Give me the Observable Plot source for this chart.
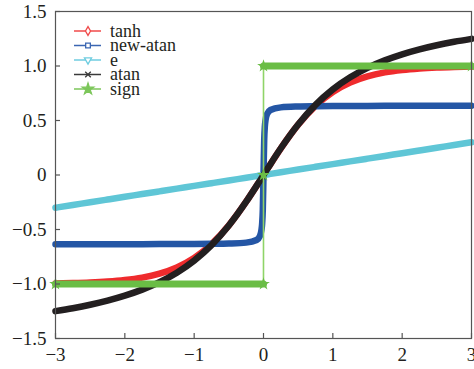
<!DOCTYPE html>
<html>
<head>
<meta charset="utf-8">
<script src="https://cdn.jsdelivr.net/npm/d3@7"></script>
<script src="https://cdn.jsdelivr.net/npm/@observablehq/plot@0.6"></script>
<style>
  body { margin: 0; background: #fff; }
  svg { display: block; }
</style>
</head>
<body>
<div id="chart"></div>
<script>
// Sample positions along x (denser around the origin where new-atan is steep)
const xs = [-3, -2.75, -2.5, -2.25, -2, -1.75, -1.5, -1.25, -1, -0.75, -0.5, -0.25,
  -0.1, -0.05, -0.03, -0.02, -0.01, 0, 0.01, 0.02, 0.03, 0.05, 0.1,
  0.25, 0.5, 0.75, 1, 1.25, 1.5, 1.75, 2, 2.25, 2.5, 2.75, 3];

const tanhY = [-0.9951, -0.9918, -0.9866, -0.9780, -0.9640, -0.9414, -0.9051, -0.8483, -0.7616, -0.6351, -0.4621, -0.2449,
  -0.0997, -0.0500, -0.0300, -0.0200, -0.0100, 0, 0.0100, 0.0200, 0.0300, 0.0500, 0.0997,
  0.2449, 0.4621, 0.6351, 0.7616, 0.8483, 0.9051, 0.9414, 0.9640, 0.9780, 0.9866, 0.9918, 0.9951];

const newAtanY = [-0.6353, -0.6352, -0.6350, -0.6348, -0.6346, -0.6343, -0.6339, -0.6334, -0.6326, -0.6312, -0.6285, -0.6204,
  -0.5962, -0.5566, -0.5062, -0.4487, -0.3183, 0, 0.3183, 0.4487, 0.5062, 0.5566, 0.5962,
  0.6204, 0.6285, 0.6312, 0.6326, 0.6334, 0.6339, 0.6343, 0.6346, 0.6348, 0.6350, 0.6352, 0.6353];

const eY = [-0.3, -0.275, -0.25, -0.225, -0.2, -0.175, -0.15, -0.125, -0.1, -0.075, -0.05, -0.025,
  -0.01, -0.005, -0.003, -0.002, -0.001, 0, 0.001, 0.002, 0.003, 0.005, 0.01,
  0.025, 0.05, 0.075, 0.1, 0.125, 0.15, 0.175, 0.2, 0.225, 0.25, 0.275, 0.3];

const atanY = [-1.2490, -1.2220, -1.1903, -1.1526, -1.1071, -1.0517, -0.9828, -0.8961, -0.7854, -0.6435, -0.4636, -0.2450,
  -0.0997, -0.0500, -0.0300, -0.0200, -0.0100, 0, 0.0100, 0.0200, 0.0300, 0.0500, 0.0997,
  0.2450, 0.4636, 0.6435, 0.7854, 0.8961, 0.9828, 1.0517, 1.1071, 1.1526, 1.1903, 1.2220, 1.2490];

// sign: a step through the origin
const signX = [-3, -0.0001, 0, 0.0001, 3];
const signY = [-1, -1, 0, 1, 1];

const names = ["tanh", "new-atan", "e", "atan", "sign"];
const colors = ["#ef2b2d", "#2456a5", "#5fc6d6", "#231f20", "#6abd45"];
const legendColors = ["#f04a4a", "#3b66b2", "#6fcde0", "#3a3a3a", "#7cc65a"];
const symbols = [d3.symbolDiamond, d3.symbolSquare, d3.symbolTriangle, d3.symbolX, d3.symbolStar];

const xTicks = [-3, -2, -1, 0, 1, 2, 3];
const yTicks = [-1.5, -1, -0.5, 0, 0.5, 1, 1.5];

const curveRows = (ys) => xs.map((x, i) => ({x, y: ys[i]}));
const signRows = signX.map((x, i) => ({x, y: signY[i]}));

const W = 474, H = 369;
const mL = 55, mR = 3, mT = 11, mB = 31;
const fw = W - mL - mR, fh = H - mT - mB;
const serif = "'Liberation Serif', 'Times New Roman', serif";
const yFmt = d => d === 0 ? "0" : d3.format(".1f")(d);

const curveMark = (ys, k) => Plot.line(curveRows(ys), {
  x: "x", y: "y", stroke: colors[k], strokeWidth: 6.5,
  curve: "monotone-x", strokeLinejoin: "round"
});

const chart = Plot.plot({
  width: W, height: H,
  marginLeft: mL, marginRight: mR, marginTop: mT, marginBottom: mB,
  style: {fontFamily: serif, fontSize: "19px", color: "#231f20", background: "#fff"},
  x: {domain: [-3, 3], label: null},
  y: {domain: [-1.5, 1.5], label: null},
  marks: [
    curveMark(tanhY, 0),
    curveMark(newAtanY, 1),
    curveMark(eY, 2),
    curveMark(atanY, 3),
    // thin connecting line of the step, then the thick plateaus
    Plot.line(signRows, {x: "x", y: "y", stroke: "#8fd468", strokeWidth: 1.6}),
    Plot.line(signRows.filter(d => d.y !== 0), {x: "x", y: "y", z: "y", stroke: colors[4], strokeWidth: 7}),
    Plot.dot(signRows, {x: "x", y: "y", symbol: "star", r: 4, fill: colors[4]}),
    Plot.frame({stroke: "#555", strokeWidth: 1.2}),
    Plot.tickY(yTicks, {y: d => d, insetRight: fw - 5, stroke: "#555", strokeWidth: 1.2}),
    Plot.tickX(xTicks, {x: d => d, insetTop: fh - 5, stroke: "#555", strokeWidth: 1.2}),
    Plot.axisY(yTicks, {tickSize: 0, tickPadding: 9, tickFormat: yFmt, fontSize: 19, label: null}),
    Plot.axisX(xTicks, {tickSize: 0, tickPadding: 9, fontSize: 19, label: null})
  ]
});

// Legend in the upper-left corner of the frame
const svg = d3.select(chart);
const lg = svg.append("g")
  .attr("font-family", serif).attr("font-size", 18).attr("text-anchor", "start");
names.forEach((name, i) => {
  const y = 31 + i * 14.5;
  const row = lg.append("g").attr("transform", `translate(0,${y})`);
  row.append("line").attr("x1", 74).attr("x2", 101).attr("y1", 0).attr("y2", 0)
    .attr("stroke", legendColors[i]).attr("stroke-width", 1.5);
  const filled = i === 4 || i === 3;
  row.append("path")
    .attr("d", d3.symbol(symbols[i], i === 4 ? 40 : 22)())
    .attr("transform", `translate(88,0)${i === 2 ? " rotate(180)" : ""}`)
    .attr("fill", filled ? legendColors[i] : "#fff")
    .attr("stroke", legendColors[i]).attr("stroke-width", 1.3);
  row.append("text").attr("x", 110).attr("y", 0).attr("dy", "0.32em")
    .attr("fill", "#231f20").text(name);
});

document.getElementById("chart").appendChild(chart);
</script>
</body>
</html>
